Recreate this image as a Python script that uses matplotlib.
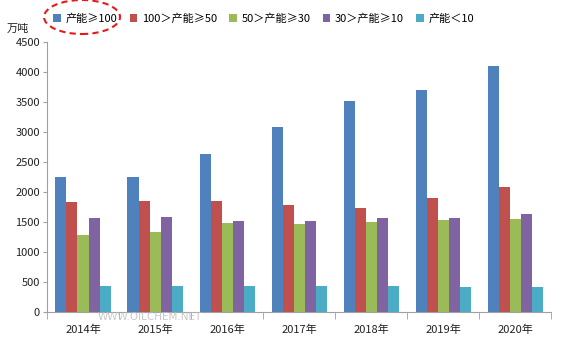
import matplotlib
matplotlib.use("Agg")
import matplotlib.pyplot as plt
import numpy as np
from matplotlib.patches import Ellipse

plt.rcParams['font.family'] = ['Noto Sans CJK SC', 'DejaVu Sans']

years = ['2014年', '2015年', '2016年', '2017年', '2018年', '2019年', '2020年']
series_names = ['产能≥100', '100＞产能≥50', '50＞产能≥30', '30＞产能≥10', '产能＜10']
cap_ge100 = [2245, 2245, 2628, 3078, 3517, 3700, 4106]
cap_50_100 = [1828, 1850, 1850, 1778, 1733, 1906, 2078]
cap_30_50 = [1283, 1339, 1478, 1467, 1494, 1539, 1550]
cap_10_30 = [1561, 1583, 1511, 1511, 1561, 1561, 1628]
cap_lt10 = [433, 433, 433, 433, 433, 417, 417]
yticks = [0, 500, 1000, 1500, 2000, 2500, 3000, 3500, 4000, 4500]

values = [cap_ge100, cap_50_100, cap_30_50, cap_10_30, cap_lt10]
colors = ['#4F81BD', '#C0504D', '#9BBB59', '#8064A2', '#4BACC6']

fig = plt.figure(figsize=(5.68, 3.40), dpi=100)
ax = fig.add_axes([0.0827, 0.0824, 0.888, 0.794])

x = np.arange(len(years))
bw = 0.153
for i, (vals, c, name) in enumerate(zip(values, colors, series_names)):
    ax.bar(x + (i - 2) * bw, vals, width=bw, color=c, label=name, linewidth=0)

ax.set_xlim(-0.5, len(years) - 0.5)
ax.set_ylim(0, 4500)
ax.set_yticks(yticks)
ax.set_yticklabels([str(v) for v in yticks], fontsize=8, color='#222222')
ax.set_xticks(x)
ax.set_xticklabels(years, fontsize=8, color='#222222')
ax.tick_params(axis='x', length=0, pad=9)
ax.tick_params(axis='y', length=3, color='#A0A0A0', pad=2)
ax.set_xticks(np.arange(-0.5, len(years)), minor=True)
ax.tick_params(axis='x', which='minor', length=5, color='#A0A0A0', direction='out')

for s in ['top', 'right']:
    ax.spines[s].set_visible(False)
for s in ['left', 'bottom']:
    ax.spines[s].set_color('#A0A0A0')
    ax.spines[s].set_linewidth(0.8)

leg = fig.legend(loc='center left', bbox_to_anchor=(0.094, 1 - 19 / 340), ncol=5, frameon=False,
                 fontsize=8, handlelength=0.7, handleheight=0.7, handletextpad=0.4,
                 columnspacing=1.1, borderaxespad=0, borderpad=0)

fig.text(0.012, 1 - 29 / 340, '万吨', fontsize=8, color='#222222', ha='left', va='center')

# red dashed ellipse around first legend item
ell = Ellipse((82 / 568, 1 - 17 / 340), 76 / 568, 34 / 340, transform=fig.transFigure,
              fill=False, edgecolor='#E8191C', linestyle=(0, (3, 2)), linewidth=1.5)
fig.add_artist(ell)

# watermark
fig.text(150 / 568, 1 - 317 / 340, 'WWW.OILCHEM.NET', fontsize=7.5, color='#BBBBBB', alpha=0.8,
         ha='center', va='center', family='DejaVu Sans')

fig.savefig('out.png', dpi=100)
